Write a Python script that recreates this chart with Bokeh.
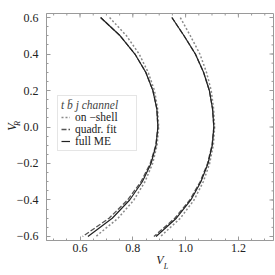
from bokeh.plotting import figure
from bokeh.models import Range1d, FixedTicker, LinearAxis, Legend, LegendItem
from bokeh.embed import file_html
from bokeh.resources import INLINE
import numpy as np

# ---- data ----
VR = [0.6, 0.5, 0.4, 0.3, 0.2, 0.1, 0.0, -0.1, -0.2, -0.3, -0.4, -0.5, -0.6]
inner_full = [0.678, 0.752, 0.808, 0.849, 0.876, 0.891, 0.895, 0.888, 0.869, 0.836, 0.788, 0.722, 0.630]
inner_quad = [0.678, 0.752, 0.808, 0.849, 0.876, 0.891, 0.895, 0.887, 0.866, 0.831, 0.780, 0.710, 0.610]
inner_shell = [0.712, 0.776, 0.824, 0.858, 0.882, 0.894, 0.898, 0.892, 0.875, 0.846, 0.804, 0.744, 0.660]
outer_full = [0.948, 0.994, 1.037, 1.068, 1.090, 1.102, 1.107, 1.101, 1.085, 1.058, 1.020, 0.965, 0.888]
outer_quad = [0.948, 0.994, 1.037, 1.068, 1.090, 1.102, 1.107, 1.100, 1.083, 1.055, 1.016, 0.959, 0.880]
outer_shell = [0.980, 1.018, 1.054, 1.079, 1.097, 1.106, 1.110, 1.105, 1.091, 1.067, 1.032, 0.980, 0.905]

x_major = [0.6, 0.8, 1.0, 1.2]
x_labels = ["0.6", "0.8", "1.0", "1.2"]
y_major = [-0.6, -0.4, -0.2, 0.0, 0.2, 0.4, 0.6]
y_labels = ["\u22120.6", "\u22120.4", "\u22120.2", "0.0", "0.2", "0.4", "0.6"]
legend_title = "t b\u0304 j channel"
series_names = ["on \u2212shell", "quadr. fit", "full ME"]
x_name, x_sub = "V", "L"
y_name, y_sub = "V", "R"

FONT = "Liberation Serif"
GRAY = "#9a9a9a"
TXT = "#222222"
X0, X1, Y0, Y1 = 0.473, 1.333, -0.622, 0.622
FW = FH = 227
LEFT, TOP = 46, 13

p = figure(frame_width=FW, frame_height=FH,
           x_range=Range1d(X0, X1), y_range=Range1d(Y0, Y1),
           output_backend="svg", toolbar_location=None,
           x_axis_location=None, y_axis_location=None,
           min_border_left=LEFT, min_border_top=TOP, min_border_right=2, min_border_bottom=33)
p.grid.visible = False
p.outline_line_color = GRAY
p.background_fill_color = "white"
p.border_fill_color = "white"

x_minor = list(np.round(np.arange(0.50, 1.33, 0.05), 2))
y_minor = list(np.round(np.arange(-0.60, 0.61, 0.05), 2))


def style(ax, standoff):
    ax.axis_line_color = GRAY
    ax.major_tick_line_color = GRAY
    ax.minor_tick_line_color = GRAY
    ax.major_tick_in = 4
    ax.major_tick_out = 0
    ax.minor_tick_in = 2
    ax.minor_tick_out = 0
    ax.major_label_text_font = FONT
    ax.major_label_text_font_size = "12px"
    ax.major_label_text_color = TXT
    ax.major_label_standoff = standoff
    ax.axis_label_text_font = FONT
    ax.axis_label_text_font_style = "italic"
    ax.axis_label_text_font_size = "12px"
    ax.axis_label_text_color = TXT


left = LinearAxis(ticker=FixedTicker(ticks=y_major, minor_ticks=y_minor),
                  major_label_overrides=dict(zip(y_major, y_labels)), axis_label=y_name)
style(left, 8)
left.axis_label_standoff = -5
bottom = LinearAxis(ticker=FixedTicker(ticks=x_major, minor_ticks=x_minor),
                    major_label_overrides=dict(zip(x_major, x_labels)), axis_label=x_name)
style(bottom, 3)
bottom.axis_label_standoff = -2
p.add_layout(left, "left")
p.add_layout(bottom, "below")


# subscripts of the axis names, drawn as one-label axes just outside the main axes
def px_x(px):
    return X0 + (px - LEFT) * (X1 - X0) / FW


def px_y(py):
    return Y1 - (py - TOP) * (Y1 - Y0) / FH


def sub_axis(pos, text, standoff, orientation):
    ax = LinearAxis(ticker=FixedTicker(ticks=[pos], minor_ticks=[]),
                    major_label_overrides={pos: text})
    ax.axis_line_color = None
    ax.major_tick_line_color = None
    ax.minor_tick_line_color = None
    ax.major_tick_in = 0
    ax.major_tick_out = 0
    ax.major_label_text_font = FONT
    ax.major_label_text_font_style = "italic"
    ax.major_label_text_font_size = "8px"
    ax.major_label_text_color = TXT
    ax.major_label_standoff = standoff
    ax.major_label_orientation = orientation
    return ax


xs_pos = round(px_x(165.5), 4)
ys_pos = round(px_y(120.5), 4)
p.add_layout(sub_axis(xs_pos, x_sub, -8, "horizontal"), "below")
p.add_layout(sub_axis(ys_pos, y_sub, -16, np.pi / 2), "left")

# mirrored frame ticks on the top and right edges (inward)
p.scatter(x_major, [Y1] * len(x_major), marker="dash", angle=np.pi / 2, size=8, line_color=GRAY, line_width=1)
p.scatter(x_minor, [Y1] * len(x_minor), marker="dash", angle=np.pi / 2, size=4, line_color=GRAY, line_width=1)
p.scatter([X1] * len(y_major), y_major, marker="dash", size=8, line_color=GRAY, line_width=1)
p.scatter([X1] * len(y_minor), y_minor, marker="dash", size=4, line_color=GRAY, line_width=1)

# curves
r_shell = p.line(inner_shell, VR, line_color="#8a8a8a", line_width=1.5, line_dash="2 2")
p.line(outer_shell, VR, line_color="#8a8a8a", line_width=1.5, line_dash="2 2")
r_quad = p.line(inner_quad, VR, line_color="#555555", line_width=1.3, line_dash="5 2")
p.line(outer_quad, VR, line_color="#555555", line_width=1.3, line_dash="5 2")
r_full = p.line(inner_full, VR, line_color="#222222", line_width=1.2)
p.line(outer_full, VR, line_color="#222222", line_width=1.2)

legend = Legend(items=[LegendItem(label=series_names[0], renderers=[r_shell]),
                       LegendItem(label=series_names[1], renderers=[r_quad]),
                       LegendItem(label=series_names[2], renderers=[r_full])],
                location=(11, 89), title=legend_title,
                title_text_font=FONT, title_text_font_style="italic", title_text_font_size="11.5px",
                title_standoff=0,
                label_text_font=FONT, label_text_font_size="11.5px", label_text_color=TXT,
                label_height=10, glyph_height=10, glyph_width=9, label_standoff=5,
                label_width=58,
                spacing=0, padding=3, margin=0,
                border_line_color="#cccccc", background_fill_color="white", background_fill_alpha=1.0)
p.add_layout(legend)

open("out.html", "w").write(file_html(p, INLINE))
